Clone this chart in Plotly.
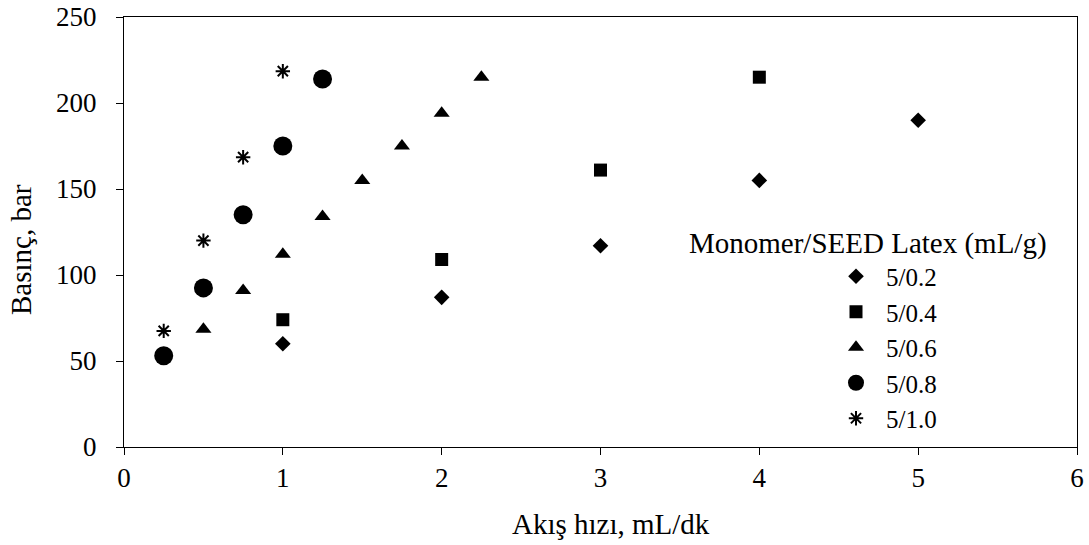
import plotly.graph_objects as go

x02 = [1, 2, 3, 4, 5]
y02 = [60, 87, 117, 155, 190]
x04 = [1, 2, 3, 4]
y04 = [74, 109, 161, 215]
x06 = [0.5, 0.75, 1, 1.25, 1.5, 1.75, 2, 2.25]
y06 = [68.5, 91, 112, 134, 155, 175, 194, 215]
x08 = [0.25, 0.5, 0.75, 1, 1.25]
y08 = [53, 92.5, 135, 175, 214]
x10 = [0.25, 0.5, 0.75, 1]
y10 = [67.5, 120, 168.5, 218.5]

names = ["5/0.2", "5/0.4", "5/0.6", "5/0.8", "5/1.0"]
xs = [x02, x04, x06, x08, x10]
ys = [y02, y04, y06, y08, y10]
symbols = ["diamond", "square", "triangle-up", "circle", "asterisk-open"]
sizes = [12, 13, 14, 19, 12]

fig = go.Figure()
for n, xx, yy, s, sz in zip(names, xs, ys, symbols, sizes):
    marker = dict(symbol=s, size=sz, color="black")
    if s == "asterisk-open":
        marker["line"] = dict(color="black", width=2)
    else:
        marker["line"] = dict(width=0)
    fig.add_trace(go.Scatter(x=xx, y=yy, mode="markers", name=n, marker=marker))

font = "Liberation Serif, Times New Roman, serif"
fig.update_layout(
    width=1089, height=545,
    margin=dict(l=124, r=12, t=17, b=98),
    paper_bgcolor="white", plot_bgcolor="white",
    font=dict(family=font, size=27, color="black"),
    showlegend=True,
    legend=dict(
        x=(826 - 124) / 953, xanchor="left", y=(447 - 253.5) / 430, yanchor="top",
        bgcolor="rgba(0,0,0,0)", font=dict(size=25), itemwidth=50,
    ),
    xaxis=dict(
        range=[0, 6], dtick=1, showgrid=False, zeroline=False, automargin=False,
        showline=True, linecolor="black", linewidth=1, mirror=True,
        ticks="outside", ticklen=7, tickcolor="black", ticklabelstandoff=0,
    ),
    yaxis=dict(
        range=[0, 250], dtick=50, showgrid=False, zeroline=False, automargin=False,
        showline=True, linecolor="black", linewidth=1, mirror=True,
        ticks="outside", ticklen=7, tickcolor="black", ticklabelstandoff=14,
    ),
    annotations=[
        dict(text="Monomer/SEED Latex (mL/g)", xref="paper", yref="paper",
             x=(867.5 - 124) / 953, y=(447 - 243) / 430, xanchor="center", yanchor="middle",
             showarrow=False, font=dict(size=29)),
        dict(text="Akış hızı, mL/dk", xref="paper", yref="paper",
             x=0.5 + (611 - 600.5) / 953, y=(447 - 524) / 430, xanchor="center", yanchor="middle",
             showarrow=False, font=dict(size=29)),
        dict(text="Basınç, bar", xref="paper", yref="paper", textangle=-90,
             x=(21 - 124) / 953, y=(447 - 250) / 430, xanchor="center", yanchor="middle",
             showarrow=False, font=dict(size=29)),
    ],
)
fig.write_html("out.html")
